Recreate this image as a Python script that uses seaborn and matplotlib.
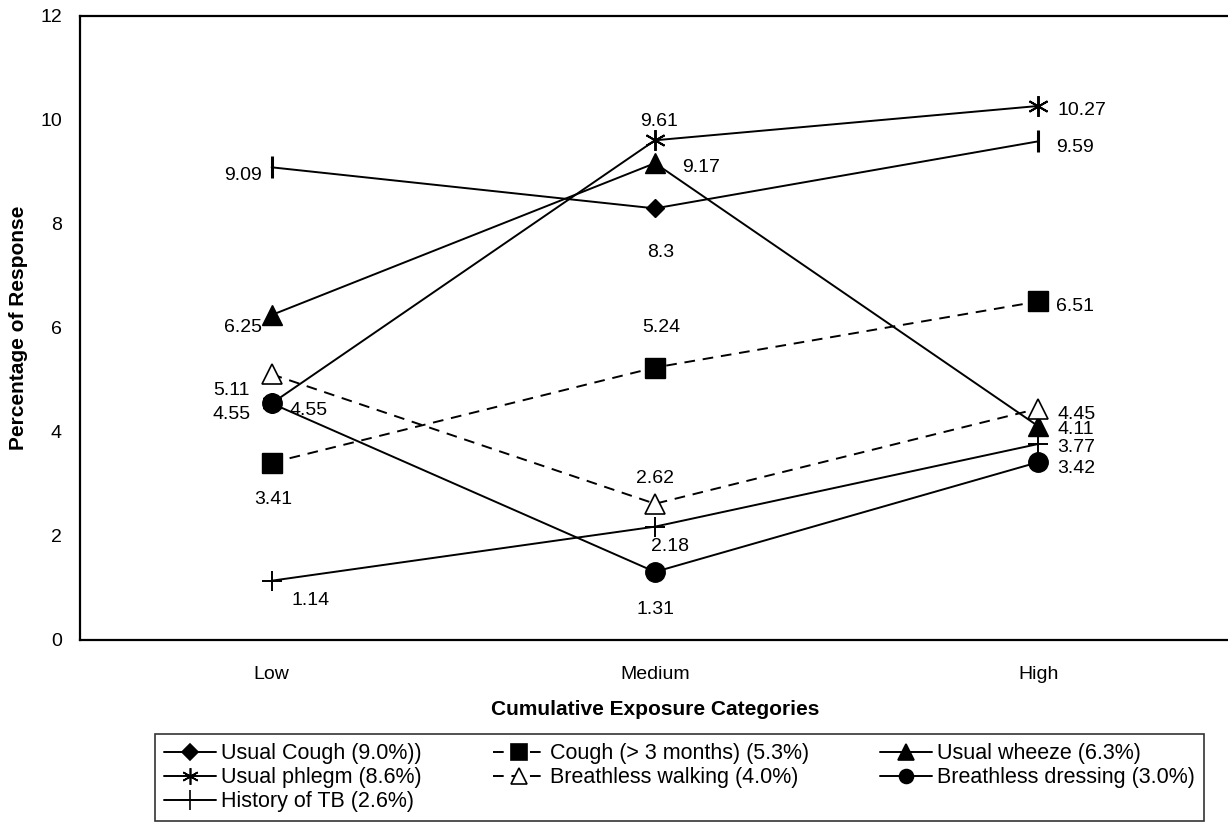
import matplotlib
matplotlib.use("Agg")
import matplotlib.pyplot as plt
from matplotlib.lines import Line2D
import seaborn as sns
import pandas as pd

# ---------------- data ----------------
categories = ["Low", "Medium", "High"]
series_names = [
    "Usual Cough (9.0%))",
    "Cough (> 3 months) (5.3%)",
    "Usual wheeze (6.3%)",
    "Usual phlegm (8.6%)",
    "Breathless walking (4.0%)",
    "Breathless dressing (3.0%)",
    "History of TB (2.6%)",
]
usual_cough = [9.09, 8.3, 9.59]
cough_3m = [3.41, 5.24, 6.51]
usual_wheeze = [6.25, 9.17, 4.11]
usual_phlegm = [4.55, 9.61, 10.27]
breathless_walking = [5.11, 2.62, 4.45]
breathless_dressing = [4.55, 1.31, 3.42]
history_tb = [1.14, 2.18, 3.77]
values = [usual_cough, cough_3m, usual_wheeze, usual_phlegm,
          breathless_walking, breathless_dressing, history_tb]
y_ticks = [0, 2, 4, 6, 8, 10, 12]

# ---------------- styles ----------------
ASTER = (6, 2, 0)
styles = [
    dict(ls="-", markers=["|", "D", "|"], ms=[16, 9, 16], mew=[2.2, 1, 2.2], mfc="black", legend_marker="D", legend_ms=8),
    dict(ls="--", markers=["s"] * 3, ms=[15] * 3, mew=[1] * 3, mfc="black", legend_marker="s", legend_ms=11),
    dict(ls="-", markers=["^"] * 3, ms=[15] * 3, mew=[1] * 3, mfc="black", legend_marker="^", legend_ms=11),
    dict(ls="-", markers=[ASTER] * 3, ms=[15] * 3, mew=[1.4] * 3, mfc="black", legend_marker=ASTER, legend_ms=12),
    dict(ls="--", markers=["^"] * 3, ms=[15] * 3, mew=[1.2] * 3, mfc="white", legend_marker="^", legend_ms=11),
    dict(ls="-", markers=["o"] * 3, ms=[14] * 3, mew=[1] * 3, mfc="black", legend_marker="o", legend_ms=10),
    dict(ls="-", markers=["+"] * 3, ms=[15] * 3, mew=[1.4] * 3, mfc="black", legend_marker="+", legend_ms=14),
]
# label placement: (dx, dy, ha) in pixels per point
label_pos = [
    [(-10, -5, "right"), (6, -41, "center"), (18, -3, "left")],
    [(2, -34, "center"), (6, 43, "center"), (18, -2, "left")],
    [(-10, -9, "right"), (27, -1, "left"), (19, 0, "left")],
    [(-21, -8, "right"), (4, 22, "center"), (19, -2, "left")],
    [(-22, -13, "right"), (0, 28, "center"), (19, -3, "left")],
    [(18, -4, "left"), (1, -35, "center"), (19, -3, "left")],
    [(20, -17, "left"), (-4, -17, "left"), (19, -1, "left")],
]
label_shift = -3

sns.set_style("white")
plt.rcParams["font.family"] = ["Liberation Sans", "DejaVu Sans"]
plt.rcParams["text.color"] = "black"
plt.rcParams["axes.labelcolor"] = "black"
plt.rcParams["xtick.color"] = "black"
plt.rcParams["ytick.color"] = "black"

W, H = 1228, 832
fig = plt.figure(figsize=(W / 100, H / 100), dpi=100)
ax = fig.add_axes([80 / W, (H - 640) / H, 1150 / W, 624 / H])

xs = list(range(len(categories)))
dash = (5.5, 4)
for name, vals, st, lp in zip(series_names, values, styles, label_pos):
    df = pd.DataFrame({"x": xs, "y": vals})
    sns.lineplot(data=df, x="x", y="y", ax=ax, color="black", linewidth=1.4,
                 legend=False, zorder=2)
    if st["ls"] == "--":
        ax.lines[-1].set_dashes(dash)
    for xi, yi, m, ms, mew, (dx, dy, ha) in zip(xs, vals, st["markers"], st["ms"], st["mew"], lp):
        ax.plot([xi], [yi], marker=m, ms=ms, mew=mew, mfc=st["mfc"], mec="black",
                color="black", ls="none", zorder=3)
        ax.annotate(f"{yi:g}", (xi, yi), xytext=(dx, dy + label_shift), textcoords="offset pixels",
                    ha=ha, va="center", fontsize=14, color="black", zorder=4)

ax.set_xlim(-0.5, 2.5)
ax.set_ylim(0, 12)
ax.set_yticks(y_ticks)
ax.set_xticks(xs)
ax.set_xticklabels(categories, fontsize=14)
ax.set_xticks([-0.5, 0.5, 1.5, 2.5], minor=True)
ax.tick_params(axis="x", which="major", length=0, pad=19)
ax.tick_params(axis="x", which="minor", length=5, width=1.2, direction="out")
ax.tick_params(axis="y", which="major", length=5, width=1.2, direction="out", labelsize=14, pad=8)
for s in ["left", "bottom", "top"]:
    ax.spines[s].set_visible(True)
    ax.spines[s].set_color("black")
    ax.spines[s].set_linewidth(1.6)
ax.spines["right"].set_visible(False)
ax.set_xlabel("Cumulative Exposure Categories", fontsize=15, fontweight="bold", labelpad=12)
ax.set_ylabel("Percentage of Response", fontsize=15, fontweight="bold", labelpad=9)
ax.grid(False)

handles = []
for name, st in zip(series_names, styles):
    h = Line2D([], [], color="black", lw=1.4, ls=st["ls"], marker=st["legend_marker"],
               ms=st["legend_ms"], mfc=st["mfc"], mec="black", mew=1.2)
    if st["ls"] == "--":
        h.set_dashes(dash)
    handles.append(h)
order = [0, 3, 6, 1, 4, 2, 5]
leg = fig.legend([handles[i] for i in order], [series_names[i] for i in order],
                 ncol=3, loc="upper left", bbox_to_anchor=(155 / W, 1 - 734 / H),
                 fontsize=15.5, frameon=True, fancybox=False, edgecolor="black",
                 handlelength=2.4, handletextpad=0.25, columnspacing=3.3,
                 labelspacing=0.14, borderpad=0.42, borderaxespad=0)
leg.get_frame().set_linewidth(1.2)

fig.savefig("out.png", dpi=100, facecolor="white")
